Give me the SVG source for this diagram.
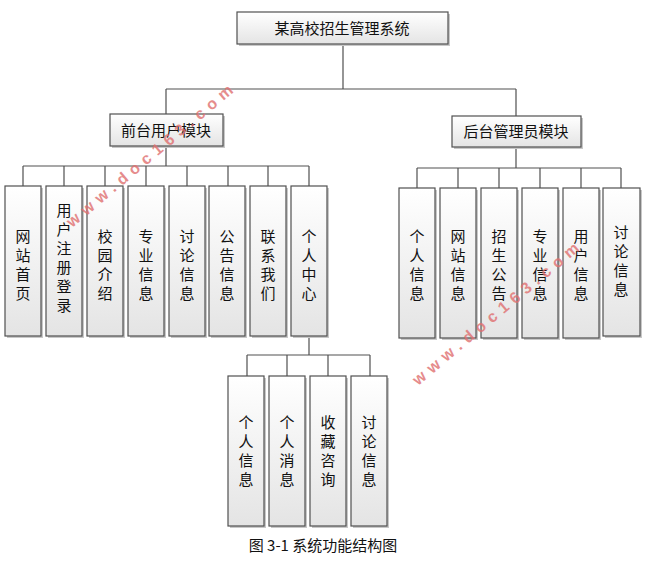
<svg xmlns="http://www.w3.org/2000/svg" width="647" height="569" viewBox="0 0 647 569">
<defs>
<linearGradient id="g" x1="0" y1="0" x2="0" y2="1"><stop offset="0" stop-color="#ffffff"/><stop offset="1" stop-color="#e4e4e4"/></linearGradient>
<style>
.b{fill:url(#g);stroke:#505050;stroke-width:1.2}
.s{fill:#c8c8c8}
.t{font-family:"Noto Sans CJK SC","Liberation Sans",sans-serif;font-size:15px;fill:#111;text-anchor:middle}
.c{fill:none;stroke:#505050;stroke-width:1.2}
.w{font-family:"Liberation Sans",sans-serif;font-size:16px;font-weight:bold;fill:#e07070;opacity:0.8;letter-spacing:6px}
</style>
</defs>
<rect width="647" height="569" fill="#fff"/>
<g id="connectors" class="c">
<path d="M343 44V89M166 89H516M166 89V114M516 89V116"/>
<path d="M166 146V166M23 166H309M23 166V186M64 166V186M105 166V186M146 166V186M187 166V186M228 166V186M268 166V186M309 166V186"/>
<path d="M516 146V168M417 168H621M417 168V188M458 168V188M499 168V188M540 168V188M581 168V188M621 168V188"/>
<path d="M309 336V355M247 355H370M247 355V376M287 355V376M328 355V376M370 355V376"/>
</g>
<g id="root"><rect class="s" x="239" y="14" width="211" height="32"/><rect class="b" x="237" y="12" width="211" height="32"/><text class="t" x="342" y="34">某高校招生管理系统</text></g>
<g id="front"><rect class="s" x="112" y="116" width="113" height="32"/><rect class="b" x="110" y="114" width="113" height="32"/><text class="t" x="166" y="136">前台用户模块</text></g>
<g id="back"><rect class="s" x="454" y="118" width="129" height="31"/><rect class="b" x="452" y="116" width="129" height="31"/><text class="t" x="516" y="137">后台管理员模块</text></g>
<g id="f1"><rect class="s" x="7" y="188" width="36" height="150"/><rect class="b" x="5" y="186" width="36" height="150"/><text class="t" x="23"><tspan x="23" y="242">网</tspan><tspan x="23" y="261">站</tspan><tspan x="23" y="280">首</tspan><tspan x="23" y="299">页</tspan></text></g>
<g id="f2"><rect class="s" x="48" y="188" width="36" height="150"/><rect class="b" x="46" y="186" width="36" height="150"/><text class="t"><tspan x="64" y="216">用</tspan><tspan x="64" y="235">户</tspan><tspan x="64" y="254">注</tspan><tspan x="64" y="273">册</tspan><tspan x="64" y="292">登</tspan><tspan x="64" y="311">录</tspan></text></g>
<g id="f3"><rect class="s" x="89" y="188" width="36" height="150"/><rect class="b" x="87" y="186" width="36" height="150"/><text class="t"><tspan x="105" y="242">校</tspan><tspan x="105" y="261">园</tspan><tspan x="105" y="280">介</tspan><tspan x="105" y="299">绍</tspan></text></g>
<g id="f4"><rect class="s" x="130" y="188" width="36" height="150"/><rect class="b" x="128" y="186" width="36" height="150"/><text class="t"><tspan x="146" y="242">专</tspan><tspan x="146" y="261">业</tspan><tspan x="146" y="280">信</tspan><tspan x="146" y="299">息</tspan></text></g>
<g id="f5"><rect class="s" x="171" y="188" width="36" height="150"/><rect class="b" x="169" y="186" width="36" height="150"/><text class="t"><tspan x="187" y="242">讨</tspan><tspan x="187" y="261">论</tspan><tspan x="187" y="280">信</tspan><tspan x="187" y="299">息</tspan></text></g>
<g id="f6"><rect class="s" x="211" y="188" width="36" height="150"/><rect class="b" x="209" y="186" width="36" height="150"/><text class="t"><tspan x="227" y="242">公</tspan><tspan x="227" y="261">告</tspan><tspan x="227" y="280">信</tspan><tspan x="227" y="299">息</tspan></text></g>
<g id="f7"><rect class="s" x="252" y="188" width="36" height="150"/><rect class="b" x="250" y="186" width="36" height="150"/><text class="t"><tspan x="268" y="242">联</tspan><tspan x="268" y="261">系</tspan><tspan x="268" y="280">我</tspan><tspan x="268" y="299">们</tspan></text></g>
<g id="f8"><rect class="s" x="293" y="188" width="36" height="150"/><rect class="b" x="291" y="186" width="36" height="150"/><text class="t"><tspan x="309" y="242">个</tspan><tspan x="309" y="261">人</tspan><tspan x="309" y="280">中</tspan><tspan x="309" y="299">心</tspan></text></g>
<g id="b1"><rect class="s" x="401" y="190" width="36" height="150"/><rect class="b" x="399" y="188" width="36" height="150"/><text class="t"><tspan x="417" y="242">个</tspan><tspan x="417" y="261">人</tspan><tspan x="417" y="280">信</tspan><tspan x="417" y="299">息</tspan></text></g>
<g id="b2"><rect class="s" x="442" y="190" width="36" height="150"/><rect class="b" x="440" y="188" width="36" height="150"/><text class="t"><tspan x="458" y="242">网</tspan><tspan x="458" y="261">站</tspan><tspan x="458" y="280">信</tspan><tspan x="458" y="299">息</tspan></text></g>
<g id="b3"><rect class="s" x="483" y="190" width="36" height="150"/><rect class="b" x="481" y="188" width="36" height="150"/><text class="t"><tspan x="499" y="242">招</tspan><tspan x="499" y="261">生</tspan><tspan x="499" y="280">公</tspan><tspan x="499" y="299">告</tspan></text></g>
<g id="b4"><rect class="s" x="524" y="190" width="36" height="150"/><rect class="b" x="522" y="188" width="36" height="150"/><text class="t"><tspan x="540" y="242">专</tspan><tspan x="540" y="261">业</tspan><tspan x="540" y="280">信</tspan><tspan x="540" y="299">息</tspan></text></g>
<g id="b5"><rect class="s" x="565" y="190" width="36" height="150"/><rect class="b" x="563" y="188" width="36" height="150"/><text class="t"><tspan x="581" y="242">用</tspan><tspan x="581" y="261">户</tspan><tspan x="581" y="280">信</tspan><tspan x="581" y="299">息</tspan></text></g>
<g id="b6"><rect class="s" x="605" y="190" width="37" height="148"/><rect class="b" x="603" y="188" width="37" height="148"/><text class="t"><tspan x="621" y="238">讨</tspan><tspan x="621" y="257">论</tspan><tspan x="621" y="276">信</tspan><tspan x="621" y="295">息</tspan></text></g>
<g id="p1"><rect class="s" x="230" y="378" width="36" height="150"/><rect class="b" x="228" y="376" width="36" height="150"/><text class="t"><tspan x="246" y="428">个</tspan><tspan x="246" y="447">人</tspan><tspan x="246" y="466">信</tspan><tspan x="246" y="485">息</tspan></text></g>
<g id="p2"><rect class="s" x="271" y="378" width="36" height="150"/><rect class="b" x="269" y="376" width="36" height="150"/><text class="t"><tspan x="287" y="428">个</tspan><tspan x="287" y="447">人</tspan><tspan x="287" y="466">消</tspan><tspan x="287" y="485">息</tspan></text></g>
<g id="p3"><rect class="s" x="312" y="378" width="36" height="150"/><rect class="b" x="310" y="376" width="36" height="150"/><text class="t"><tspan x="328" y="428">收</tspan><tspan x="328" y="447">藏</tspan><tspan x="328" y="466">咨</tspan><tspan x="328" y="485">询</tspan></text></g>
<g id="p4"><rect class="s" x="353" y="378" width="36" height="150"/><rect class="b" x="351" y="376" width="36" height="150"/><text class="t"><tspan x="369" y="428">讨</tspan><tspan x="369" y="447">论</tspan><tspan x="369" y="466">信</tspan><tspan x="369" y="485">息</tspan></text></g>
<text class="w" transform="translate(72,228) rotate(-40)">www.doc163.com</text>
<text class="w" transform="translate(418,386) rotate(-40)">www.doc163.com</text>
<text class="t" x="323" y="551">图 3-1 系统功能结构图</text>
</svg>
